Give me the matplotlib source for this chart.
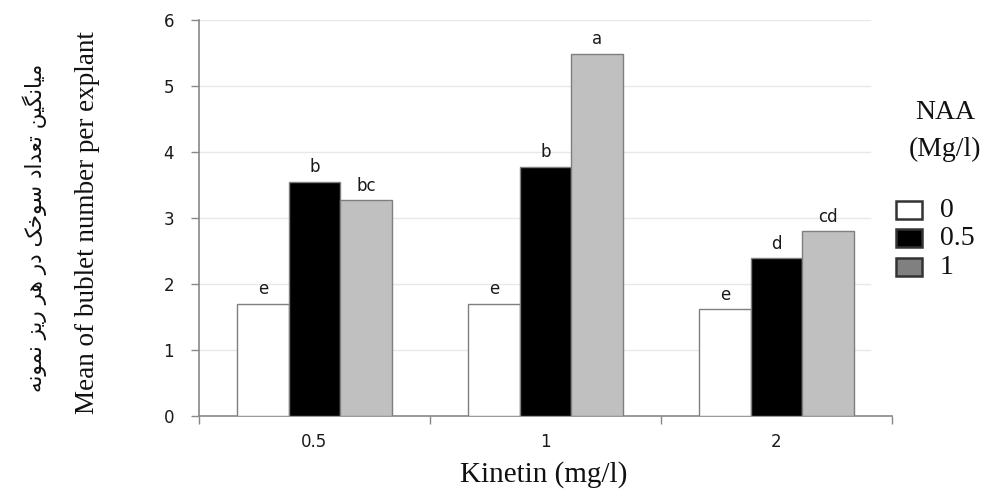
import matplotlib
matplotlib.use("Agg")
import matplotlib.pyplot as plt
from matplotlib.patches import Rectangle
import numpy as np

kinetin = ["0.5", "1", "2"]
naa_levels = ["0", "0.5", "1"]
naa_0 = [1.70, 1.70, 1.62]
naa_05 = [3.55, 3.78, 2.39]
naa_1 = [3.27, 5.49, 2.80]
letters_0 = ["e", "e", "e"]
letters_05 = ["b", "b", "d"]
letters_1 = ["bc", "a", "cd"]

bar_colors = ["#ffffff", "#000000", "#c0c0c0"]
legend_colors = ["#ffffff", "#000000", "#808080"]

fa_label = "میانگین تعداد سوخک در هر ریز نمونه"

# presentation forms: isolated, final, initial, medial (None = right-joining only)
FORMS = {
    "م": ("\uFEE1", "\uFEE2", "\uFEE3", "\uFEE4"),
    "ی": ("\uFBFC", "\uFBFD", "\uFBFE", "\uFBFF"),
    "ا": ("\uFE8D", "\uFE8E", None, None),
    "ن": ("\uFEE5", "\uFEE6", "\uFEE7", "\uFEE8"),
    "گ": ("\uFB92", "\uFB93", "\uFB94", "\uFB95"),
    "ت": ("\uFE95", "\uFE96", "\uFE97", "\uFE98"),
    "ع": ("\uFEC9", "\uFECA", "\uFECB", "\uFECC"),
    "د": ("\uFEA9", "\uFEAA", None, None),
    "س": ("\uFEB1", "\uFEB2", "\uFEB3", "\uFEB4"),
    "و": ("\uFEED", "\uFEEE", None, None),
    "خ": ("\uFEA5", "\uFEA6", "\uFEA7", "\uFEA8"),
    "ک": ("\uFB8E", "\uFB8F", "\uFB90", "\uFB91"),
    "ر": ("\uFEAD", "\uFEAE", None, None),
    "ه": ("\uFEE9", "\uFEEA", "\uFEEB", "\uFEEC"),
    "ز": ("\uFEAF", "\uFEB0", None, None),
}


def dual(ch):
    return ch in FORMS and FORMS[ch][2] is not None


def shape_fa(text):
    out = []
    for i, ch in enumerate(text):
        if ch not in FORMS:
            out.append(ch)
            continue
        prev = text[i - 1] if i > 0 else " "
        nxt = text[i + 1] if i + 1 < len(text) else " "
        jp = dual(prev)
        jn = dual(ch) and nxt in FORMS
        iso, fin, ini, med = FORMS[ch]
        if jp and jn:
            out.append(med)
        elif jp:
            out.append(fin)
        elif jn:
            out.append(ini)
        else:
            out.append(iso)
    return "".join(out)[::-1]


fig = plt.figure(figsize=(9.92, 4.90), dpi=100)
ax = fig.add_axes([0.2006, 0.151, 0.6986, 0.808])

x = np.arange(len(kinetin))
w = 0.223
series = [naa_0, naa_05, naa_1]
marks = [letters_0, letters_05, letters_1]
for k, (vals, col, labs) in enumerate(zip(series, bar_colors, marks)):
    xs = x + (k - 1) * w
    ax.bar(xs, vals, width=w, color=col, edgecolor="#7f7f7f", linewidth=1.0, zorder=3)
    for xi, v, t in zip(xs, vals, labs):
        ax.annotate(t, (xi, v), xytext=(0, 4), textcoords="offset points",
                    ha="center", va="bottom", fontsize=12, color="#1a1a1a",
                    family="DejaVu Sans")

for yv in range(1, 7):
    ax.axhline(yv, xmin=0, xmax=0.968, color="#e8e8e8", linewidth=1.0, zorder=1)

ax.set_xlim(-0.5, 2.5)
ax.set_ylim(0, 6)
ax.set_yticks(range(0, 7))
ax.set_xticks(x)
ax.set_xticklabels(kinetin)
ax.set_xticks(np.arange(-0.5, 3.0, 1.0), minor=True)
ax.tick_params(axis="x", which="major", length=0, pad=12, labelsize=12, labelcolor="#1a1a1a")
ax.tick_params(axis="x", which="minor", length=6, color="#888888", width=1)
ax.tick_params(axis="y", length=6, color="#888888", width=1, pad=12,
               labelsize=12, labelcolor="#1a1a1a")
for side in ("top", "right"):
    ax.spines[side].set_visible(False)
for side in ("left", "bottom"):
    ax.spines[side].set_color("#888888")
    ax.spines[side].set_linewidth(1.2)

fig.text(0.548, 0.004, "Kinetin (mg/l)", family="Liberation Serif", fontsize=21,
         ha="center", va="bottom", color="#111111")
fig.text(0.088, 0.545, "Mean of bublet number per explant", family="Liberation Serif",
         fontsize=19.5, rotation=90, ha="center", va="center", color="#111111")
fig.text(0.035, 0.535, shape_fa(fa_label), family="DejaVu Sans", fontsize=15.5,
         rotation=90, ha="center", va="center", color="#111111")

# legend
fig.text(0.953, 0.77, "NAA", family="Liberation Serif", fontsize=20,
         ha="center", va="center", color="#111111")
fig.text(0.953, 0.695, "(Mg/l)", family="Liberation Serif", fontsize=20,
         ha="center", va="center", color="#111111")
for i, (lab, col) in enumerate(zip(naa_levels, legend_colors)):
    yc = 1 - (210 + i * 28.5) / 490
    fig.patches.append(Rectangle((896 / 992, yc - 9 / 490), 26 / 992, 18 / 490,
                                 transform=fig.transFigure, facecolor=col,
                                 edgecolor="#333333", linewidth=1.8))
    fig.text(940 / 992, yc, lab, family="Liberation Serif", fontsize=20,
             ha="left", va="center", color="#111111")

fig.savefig("out.png", dpi=100)
